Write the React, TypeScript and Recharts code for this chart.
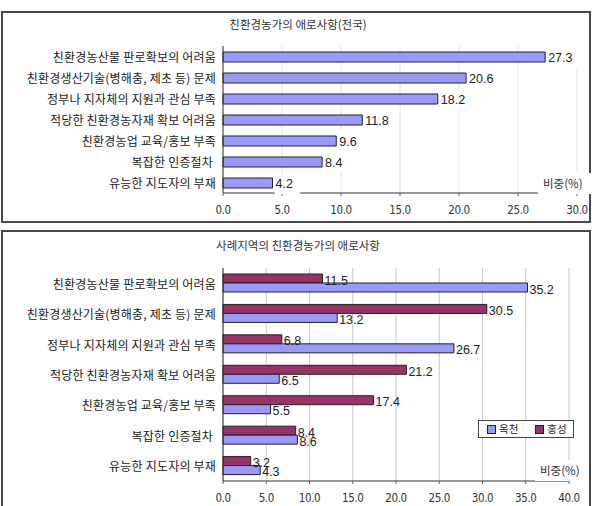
import React from 'react';
import { BarChart, Bar, XAxis, YAxis, CartesianGrid, LabelList } from 'recharts';

// Problem categories (shared by both panels)
const categories = [
  '친환경농산물 판로확보의 어려움',
  '친환경생산기술(병해충, 제초 등) 문제',
  '정부나 지자체의 지원과 관심 부족',
  '적당한 친환경농자재 확보 어려움',
  '친환경농업 교육/홍보 부족',
  '복잡한 인증절차\u00a0',
  '유능한 지도자의 부재',
];

// Share (%) nationwide
const nationalShare = [27.3, 20.6, 18.2, 11.8, 9.6, 8.4, 4.2];

// Share (%) in the case-study regions
const okcheonShare = [35.2, 13.2, 26.7, 6.5, 5.5, 8.6, 4.3];
const hongseongShare = [11.5, 30.5, 6.8, 21.2, 17.4, 8.4, 3.2];

const seriesNames = ['옥천', '홍성'];
const seriesColors = ['#9999FF', '#993366'];

const nationalTicks = [0, 5, 10, 15, 20, 25, 30];
const regionTicks = [0, 5, 10, 15, 20, 25, 30, 35, 40];

const nationalTitle = '친환경농가의 애로사항(전국)';
const regionTitle = '사례지역의 친환경농가의 애로사항';
const unitLabel = '비중(%)';

const nationalData = categories.map((name, i) => ({ name, value: nationalShare[i] }));
const regionData = categories.map((name, i) => ({
  name,
  okcheon: okcheonShare[i],
  hongseong: hongseongShare[i],
}));

const KR_FONT = '"Noto Sans CJK KR", "Noto Sans", sans-serif';
const NUM_FONT = '"Liberation Sans", Arial, sans-serif';
const NARROW_FONT = '"Liberation Sans Narrow", "DejaVu Sans Condensed", "Liberation Sans", sans-serif';

const fmt = (v: number) => Number(v).toFixed(1);

// Category label on the left axis, kept on one line
const CategoryTick = (props: any) => {
  const { x, y, payload } = props;
  return (
    <text
      x={x}
      y={y}
      textAnchor="end"
      dominantBaseline="central"
      fontSize={12}
      letterSpacing={0.2}
      fontFamily={KR_FONT}
      fill="#1a1a1a"
      style={{ whiteSpace: 'pre' }}
    >
      {payload.value}
    </text>
  );
};

// Percentage tick below the value axis
const ValueTick = (props: any) => {
  const { x, y, payload } = props;
  return (
    <text
      x={x}
      y={y}
      dy="0.71em"
      textAnchor="middle"
      fontSize={11.5}
      fontFamily={NARROW_FONT}
      letterSpacing={-0.4}
      fill="#333"
    >
      {fmt(payload.value)}
    </text>
  );
};

// Value label with a white box behind it
const BoxedLabel = (props: any) => {
  const { x, y, width, height, value } = props;
  const text = fmt(value);
  const tx = x + width + 3;
  const cy = y + height / 2;
  const w = text.length * 6.2 + 7;
  return (
    <g>
      <rect x={tx - 1} y={cy - 10} width={w} height={21} fill="#fff" />
      <text x={tx} y={cy + 1} dominantBaseline="central" fontSize={12.5} fontFamily={NUM_FONT} fill="#222">
        {text}
      </text>
    </g>
  );
};

const PlainLabel = (props: any) => {
  const { x, y, width, height, value } = props;
  return (
    <text
      x={x + width + 2}
      y={y + height / 2 + 2}
      dominantBaseline="central"
      fontSize={12.5}
      fontFamily={NUM_FONT}
      fill="#222"
    >
      {fmt(value)}
    </text>
  );
};

const panelStyle = (top: number, height: number): React.CSSProperties => ({
  position: 'absolute',
  left: 1,
  top,
  width: 586,
  height,
  border: '2px solid #4a4a4a',
  boxSizing: 'content-box',
});

const titleStyle = (top: number): React.CSSProperties => ({
  position: 'absolute',
  left: 0,
  width: 596,
  top,
  textAlign: 'center',
  fontFamily: KR_FONT,
  fontSize: 11.5,
  color: '#333',
  lineHeight: '14px',
});

const unitStyle = (left: number, top: number): React.CSSProperties => ({
  position: 'absolute',
  left,
  top,
  width: 48,
  height: 21,
  background: '#fff',
  fontFamily: KR_FONT,
  fontSize: 11.5,
  color: '#333',
  lineHeight: '21px',
  paddingLeft: 5,
  whiteSpace: 'nowrap',
});

export default function App() {
  return (
    <div
      style={{
        position: 'absolute',
        left: 0,
        top: 0,
        width: 596,
        height: 506,
        background: '#fff',
        overflow: 'hidden',
      }}
    >
      {/* Nationwide panel */}
      <div style={panelStyle(11, 208)} />
      <div style={titleStyle(17)}>{nationalTitle}</div>
      <div style={{ position: 'absolute', left: 0, top: 0 }}>
        <BarChart
          width={596}
          height={230}
          layout="vertical"
          data={nationalData}
          margin={{ top: 46, right: 19, bottom: 7, left: 0 }}
          barSize={10}
        >
          <CartesianGrid vertical horizontal={false} stroke="#e4e4e4" />
          <XAxis
            type="number"
            dataKey="value"
            domain={[0, 30]}
            ticks={nationalTicks}
            height={30}
            axisLine={{ stroke: '#333' }}
            tickLine={{ stroke: '#666' }}
            tickSize={3}
            tickMargin={10}
            tick={ValueTick}
            interval={0}
          />
          <XAxis xAxisId="top" orientation="top" type="number" domain={[0, 30]} height={0} tick={false} tickLine={false} axisLine={{ stroke: '#999' }} />
          <YAxis
            type="category"
            dataKey="name"
            width={223}
            axisLine={{ stroke: '#333' }}
            tickLine={false}
            tickSize={0}
            tickMargin={7}
            tick={CategoryTick}
            interval={0}
          />
          <YAxis yAxisId="right" orientation="right" type="category" dataKey="name" width={0} tick={false} tickLine={false} axisLine={{ stroke: '#999' }} />
          <Bar dataKey="value" fill={seriesColors[0]} stroke="#222" strokeWidth={1} isAnimationActive={false}>
            <LabelList dataKey="value" content={BoxedLabel} />
          </Bar>
        </BarChart>
      </div>
      <div style={unitStyle(538, 173)}>{unitLabel}</div>

      {/* Case-study region panel */}
      <div style={panelStyle(230, 300)} />
      <div style={titleStyle(238)}>{regionTitle}</div>
      <div style={{ position: 'absolute', left: 0, top: 228 }}>
        <BarChart
          width={596}
          height={278}
          layout="vertical"
          data={regionData}
          margin={{ top: 40, right: 27, bottom: 5, left: 0 }}
          barSize={9}
          barGap={0}
        >
          <CartesianGrid vertical horizontal={false} stroke="#c8c8c8" />
          <XAxis
            type="number"
            domain={[0, 40]}
            ticks={regionTicks}
            height={20}
            axisLine={{ stroke: '#333' }}
            tickLine={{ stroke: '#666' }}
            tickSize={3}
            tickMargin={10}
            tick={ValueTick}
            interval={0}
          />
          <XAxis xAxisId="top" orientation="top" type="number" domain={[0, 40]} height={0} tick={false} tickLine={false} axisLine={{ stroke: '#aaa' }} />
          <YAxis
            type="category"
            dataKey="name"
            width={223}
            axisLine={{ stroke: '#333' }}
            tickLine={false}
            tickSize={0}
            tickMargin={7}
            tick={CategoryTick}
            interval={0}
          />
          <Bar dataKey="hongseong" name={seriesNames[1]} fill={seriesColors[1]} stroke="#222" strokeWidth={1} isAnimationActive={false}>
            <LabelList dataKey="hongseong" content={PlainLabel} />
          </Bar>
          <Bar dataKey="okcheon" name={seriesNames[0]} fill={seriesColors[0]} stroke="#222" strokeWidth={1} isAnimationActive={false}>
            <LabelList dataKey="okcheon" content={PlainLabel} />
          </Bar>
        </BarChart>
      </div>
      <div style={unitStyle(535, 460)}>{unitLabel}</div>

      {/* Series legend */}
      <div
        style={{
          position: 'absolute',
          left: 478,
          top: 420,
          width: 94,
          height: 16,
          border: '1px solid #444',
          background: '#fff',
          display: 'flex',
          alignItems: 'center',
          fontFamily: KR_FONT,
          fontSize: 10.5,
          color: '#222',
          whiteSpace: 'nowrap',
        }}
      >
        {seriesNames.map((n, i) => (
          <div key={n} style={{ display: 'flex', alignItems: 'center', flexShrink: 0, marginLeft: i === 0 ? 8 : 17 }}>
            <span
              style={{
                display: 'inline-block',
                width: 7,
                height: 7,
                background: seriesColors[i],
                border: '1px solid #222',
                marginRight: 3,
                flexShrink: 0,
              }}
            />
            <span style={{ lineHeight: '14px' }}>{n}</span>
          </div>
        ))}
      </div>
    </div>
  );
}
